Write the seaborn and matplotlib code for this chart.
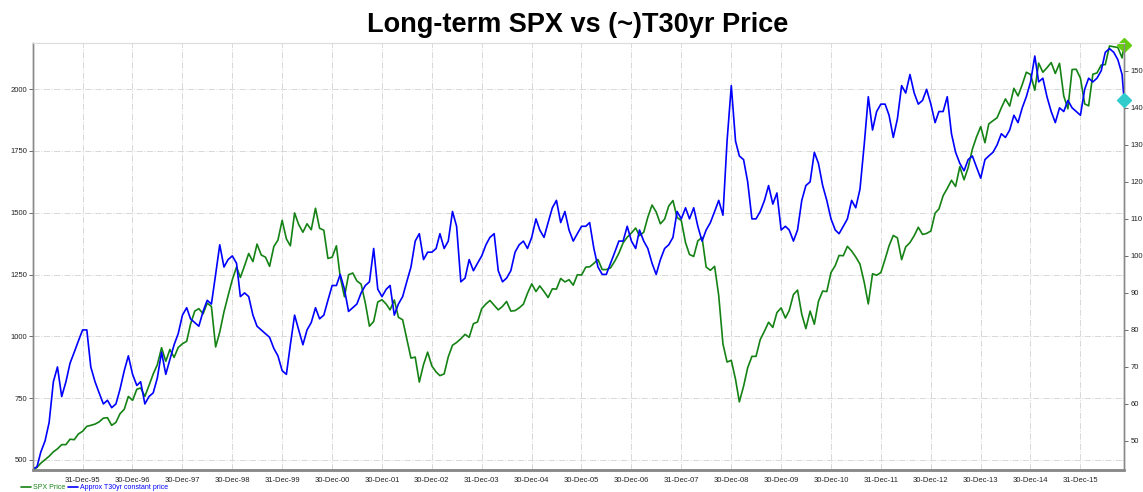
import matplotlib
matplotlib.use("Agg")
import matplotlib.pyplot as plt
import seaborn as sns
import pandas as pd

# month-end readings, Jan 1995 .. Oct 2016 (plus first day and last day)
spx_1995 = [470, 487, 501, 515, 533, 545, 562, 562, 584, 582, 605, 616]
spx_1996 = [636, 640, 645, 654, 669, 671, 640, 652, 687, 705, 757, 741]
spx_1997 = [786, 791, 757, 801, 848, 885, 954, 899, 947, 915, 955, 970]
spx_1998 = [980, 1049, 1102, 1112, 1091, 1134, 1121, 957, 1017, 1099, 1164, 1229]
spx_1999 = [1280, 1238, 1286, 1335, 1302, 1373, 1329, 1320, 1283, 1363, 1389, 1469]
spx_2000 = [1394, 1366, 1499, 1452, 1421, 1455, 1431, 1518, 1437, 1429, 1315, 1320]
spx_2001 = [1366, 1240, 1160, 1249, 1256, 1224, 1211, 1134, 1041, 1060, 1139, 1148]
spx_2002 = [1130, 1107, 1147, 1077, 1067, 990, 912, 916, 815, 886, 936, 880]
spx_2003 = [856, 841, 848, 917, 964, 975, 990, 1008, 996, 1051, 1058, 1112]
spx_2004 = [1131, 1145, 1126, 1107, 1121, 1141, 1102, 1104, 1115, 1130, 1174, 1212]
spx_2005 = [1181, 1204, 1181, 1157, 1192, 1191, 1234, 1220, 1229, 1207, 1249, 1248]
spx_2006 = [1280, 1281, 1295, 1311, 1270, 1270, 1277, 1304, 1336, 1378, 1401, 1418]
spx_2007 = [1438, 1407, 1421, 1482, 1531, 1503, 1455, 1474, 1527, 1549, 1481, 1468]
spx_2008 = [1379, 1331, 1323, 1386, 1400, 1280, 1267, 1283, 1165, 969, 896, 903]
spx_2009 = [826, 735, 798, 873, 919, 919, 987, 1021, 1057, 1036, 1096, 1115]
spx_2010 = [1074, 1104, 1169, 1187, 1089, 1031, 1102, 1049, 1141, 1183, 1181, 1258]
spx_2011 = [1286, 1327, 1326, 1364, 1345, 1321, 1292, 1219, 1131, 1253, 1247, 1258]
spx_2012 = [1312, 1366, 1408, 1398, 1310, 1362, 1379, 1407, 1441, 1412, 1416, 1426]
spx_2013 = [1498, 1515, 1569, 1598, 1631, 1606, 1686, 1633, 1682, 1757, 1806, 1848]
spx_2014 = [1783, 1859, 1872, 1884, 1924, 1960, 1931, 2003, 1972, 2018, 2068, 2059]
spx_2015 = [1995, 2105, 2068, 2086, 2107, 2063, 2104, 1972, 1920, 2079, 2080, 2044]
spx_2016 = [1940, 1932, 2060, 2065, 2097, 2099, 2174, 2171, 2168, 2126]

t30_1995 = [43, 47, 50, 55, 66, 70, 62, 66, 71, 74, 77, 80]
t30_1996 = [80, 70, 66, 63, 60, 61, 59, 60, 64, 69, 73, 68]
t30_1997 = [65, 66, 60, 62, 63, 67, 74, 68, 72, 76, 79, 84]
t30_1998 = [86, 83, 82, 81, 85, 88, 87, 95, 103, 97, 99, 100]
t30_1999 = [98, 89, 90, 89, 84, 81, 80, 79, 78, 75, 73, 69]
t30_2000 = [68, 76, 84, 80, 76, 80, 82, 86, 83, 84, 88, 92]
t30_2001 = [92, 95, 91, 85, 86, 87, 90, 92, 93, 102, 91, 89]
t30_2002 = [91, 92, 84, 87, 89, 93, 97, 104, 106, 99, 101, 101]
t30_2003 = [102, 106, 102, 104, 112, 108, 93, 94, 99, 96, 98, 100]
t30_2004 = [103, 105, 106, 96, 93, 94, 96, 101, 103, 104, 102, 105]
t30_2005 = [110, 107, 105, 109, 113, 115, 109, 112, 107, 104, 106, 108]
t30_2006 = [108, 109, 102, 97, 95, 95, 98, 101, 104, 104, 108, 104]
t30_2007 = [102, 107, 104, 102, 98, 95, 99, 102, 103, 105, 112, 110]
t30_2008 = [113, 110, 113, 108, 104, 107, 109, 112, 115, 111, 131, 146]
t30_2009 = [131, 127, 126, 120, 110, 110, 112, 115, 119, 114, 117, 107]
t30_2010 = [108, 107, 104, 107, 115, 119, 120, 128, 125, 119, 115, 110]
t30_2011 = [107, 106, 108, 110, 115, 113, 118, 130, 143, 134, 139, 141]
t30_2012 = [141, 138, 132, 137, 146, 144, 149, 144, 141, 142, 145, 141]
t30_2013 = [136, 139, 139, 143, 133, 128, 125, 123, 126, 127, 124, 121]
t30_2014 = [126, 127, 128, 130, 133, 132, 134, 138, 136, 140, 143, 147]
t30_2015 = [154, 147, 148, 143, 139, 136, 140, 139, 142, 140, 139, 138]
t30_2016 = [145, 148, 147, 148, 150, 155, 156, 155, 153, 149]

spx_first, spx_last = 459, 2180
t30_first, t30_last = 42.5, 142

tick_dates = ["1995-12-31", "1996-12-30", "1997-12-30", "1998-12-30", "1999-12-31",
              "2000-12-30", "2001-12-30", "2002-12-30", "2003-12-31", "2004-12-30",
              "2005-12-30", "2006-12-30", "2007-12-31", "2008-12-30", "2009-12-30",
              "2010-12-30", "2011-12-31", "2012-12-30", "2013-12-30", "2014-12-30",
              "2015-12-31"]
tick_labels = ["31-Dec-95", "30-Dec-96", "30-Dec-97", "30-Dec-98", "31-Dec-99",
               "30-Dec-00", "30-Dec-01", "30-Dec-02", "31-Dec-03", "30-Dec-04",
               "30-Dec-05", "30-Dec-06", "31-Dec-07", "30-Dec-08", "30-Dec-09",
               "30-Dec-10", "31-Dec-11", "30-Dec-12", "30-Dec-13", "30-Dec-14",
               "31-Dec-15"]

spx = ([spx_first] + spx_1995 + spx_1996 + spx_1997 + spx_1998 + spx_1999 + spx_2000
       + spx_2001 + spx_2002 + spx_2003 + spx_2004 + spx_2005 + spx_2006 + spx_2007
       + spx_2008 + spx_2009 + spx_2010 + spx_2011 + spx_2012 + spx_2013 + spx_2014
       + spx_2015 + spx_2016 + [spx_last])
t30 = ([t30_first] + t30_1995 + t30_1996 + t30_1997 + t30_1998 + t30_1999 + t30_2000
       + t30_2001 + t30_2002 + t30_2003 + t30_2004 + t30_2005 + t30_2006 + t30_2007
       + t30_2008 + t30_2009 + t30_2010 + t30_2011 + t30_2012 + t30_2013 + t30_2014
       + t30_2015 + t30_2016 + [t30_last])
dates = ([pd.Timestamp("1995-01-03")]
         + list(pd.date_range("1995-01-31", "2016-10-31", freq="ME"))
         + [pd.Timestamp("2016-11-15")])

df = pd.DataFrame({"date": dates, "spx": spx, "t30": t30})

sns.set_style("white")
plt.rcParams["font.family"] = ["Liberation Sans", "DejaVu Sans"]

fig = plt.figure(figsize=(11.43, 4.92), dpi=100)
ax = fig.add_axes([0.029, 0.045, 0.9545, 0.8675])
ax2 = ax.twinx()

sns.lineplot(data=df, x="date", y="spx", ax=ax, color="#148214", linewidth=1.2)
sns.lineplot(data=df, x="date", y="t30", ax=ax2, color="#0000ff", linewidth=1.2)
ax.plot(df["date"].iloc[-1], df["spx"].iloc[-1], marker="D", ms=7, color="#66cc11",
        clip_on=False, zorder=5)
ax2.plot(df["date"].iloc[-1], df["t30"].iloc[-1], marker="D", ms=7, color="#33cccc",
         clip_on=False, zorder=5)

ax.set_xlim(pd.Timestamp("1995-01-03"), pd.Timestamp("2016-11-15"))
ax.set_ylim(460, 2186)
ax2.set_ylim(42.2, 157.5)
ax.set_yticks([500, 750, 1000, 1250, 1500, 1750, 2000])
ax2.set_yticks(range(50, 151, 10))
ax.set_xticks(pd.to_datetime(tick_dates))
ax.set_xticklabels(tick_labels)

ax.grid(True, color="#d8d8d8", linestyle="-.", linewidth=0.7)
ax.set_xlabel("")
ax.set_ylabel("")
ax2.set_ylabel("")

for a in (ax, ax2):
    a.tick_params(labelsize=5.5, length=3, width=0.6, pad=1.5, color="#555555",
                  labelcolor="#222222")
    for side in ("left", "right", "bottom"):
        a.spines[side].set_color("#888888")
        a.spines[side].set_linewidth(1.0)
    a.spines["top"].set_color("#dddddd")
ax.spines["bottom"].set_linewidth(2.0)
ax.tick_params(axis="x", pad=2)

fig.suptitle("Long-term SPX vs (~)T30yr Price", x=0.505, y=0.975, fontsize=19.5,
             fontweight="bold", color="black")

leg = fig.legend(handles=ax.get_lines()[:1] + ax2.get_lines()[:1],
                 labels=["SPX Price", "Approx T30yr constant price"],
                 loc="lower left", bbox_to_anchor=(0.018, 0.0), ncol=2, frameon=False,
                 fontsize=5, handlelength=1.4, columnspacing=0.4, handletextpad=0.3,
                 borderpad=0.1, borderaxespad=0.0)
for txt, c in zip(leg.get_texts(), ["#148214", "#0000ff"]):
    txt.set_color(c)

fig.savefig("out.png", dpi=100)
